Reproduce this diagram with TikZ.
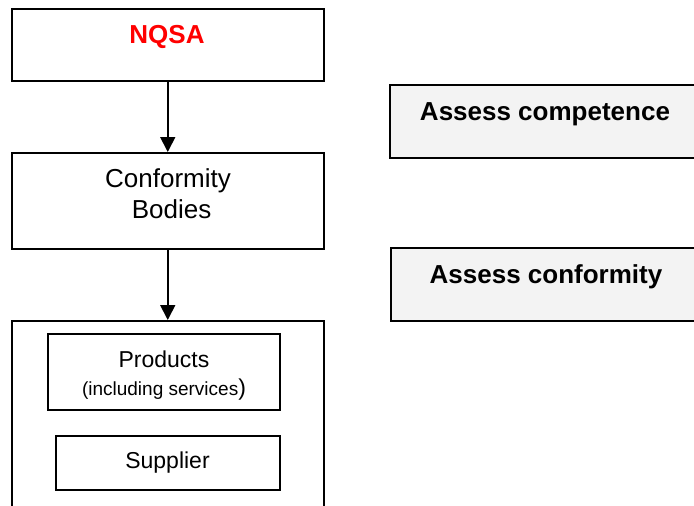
\documentclass[tikz,border=0pt]{standalone}
\usepackage{fontspec}
\setmainfont{Liberation Sans}
\usetikzlibrary{arrows.meta}
\definecolor{panelgray}{HTML}{F3F3F3}
\definecolor{nqsared}{HTML}{FF0000}
\begin{document}
\begin{tikzpicture}[x=1pt, y=-1pt,
    box/.style={draw, line width=1.5pt, inner sep=0pt, anchor=north west},
    task/.style={box, fill=panelgray},
    bigtext/.style={font=\fontsize{26}{31}\selectfont, inner sep=0pt, anchor=base, align=center},
    midtext/.style={font=\fontsize{23}{28}\selectfont, inner sep=0pt, anchor=base, align=center},
    flow/.style={line width=1.8pt, -{Triangle[width=15pt,length=15pt]}}]

      \useasboundingbox (0,0) rectangle (694,506);
      \clip (0,0) rectangle (694,506);

      % left column
      \node[box, minimum width=312pt, minimum height=72pt] (nqsa) at (11,8) {};
      \node[box, minimum width=312pt, minimum height=96pt] (bodies) at (11,152) {};
      \node[box, minimum width=312pt, minimum height=200pt] (scope) at (11,320) {};
      \node[box, minimum width=232pt, minimum height=76pt] (products) at (47,333) {};
      \node[box, minimum width=224pt, minimum height=54pt] (supplier) at (55,435) {};

      \node[bigtext, text=nqsared, font=\fontsize{26}{31}\selectfont\bfseries] (nqsalabel) at (167,43) {NQSA};
      \node[bigtext] (bodieslabel) at (168,218) {Conformity\\\ Bodies};
      \node[midtext] (productslabel) at (164,395)
        {Products\\{\fontsize{19}{23}\selectfont(including services})};
      \node[midtext] (supplierlabel) at (167.5,468) {Supplier};

      % right column
      \node[task, minimum width=320pt, minimum height=73pt] (competence) at (389,84) {};
      \node[task, minimum width=320pt, minimum height=73pt] (conformity) at (390,247) {};
      \node[bigtext, font=\fontsize{26}{31}\selectfont\bfseries] (competencelabel) at (545,120) {Assess competence};
      \node[bigtext, font=\fontsize{26}{31}\selectfont\bfseries] (conformitylabel) at (546,283) {Assess conformity};

      % arrows
      \draw[flow] (nqsa.south) -- (bodies.north);
      \draw[flow] (bodies.south) -- (scope.north);
    \end{tikzpicture}
\end{document}
